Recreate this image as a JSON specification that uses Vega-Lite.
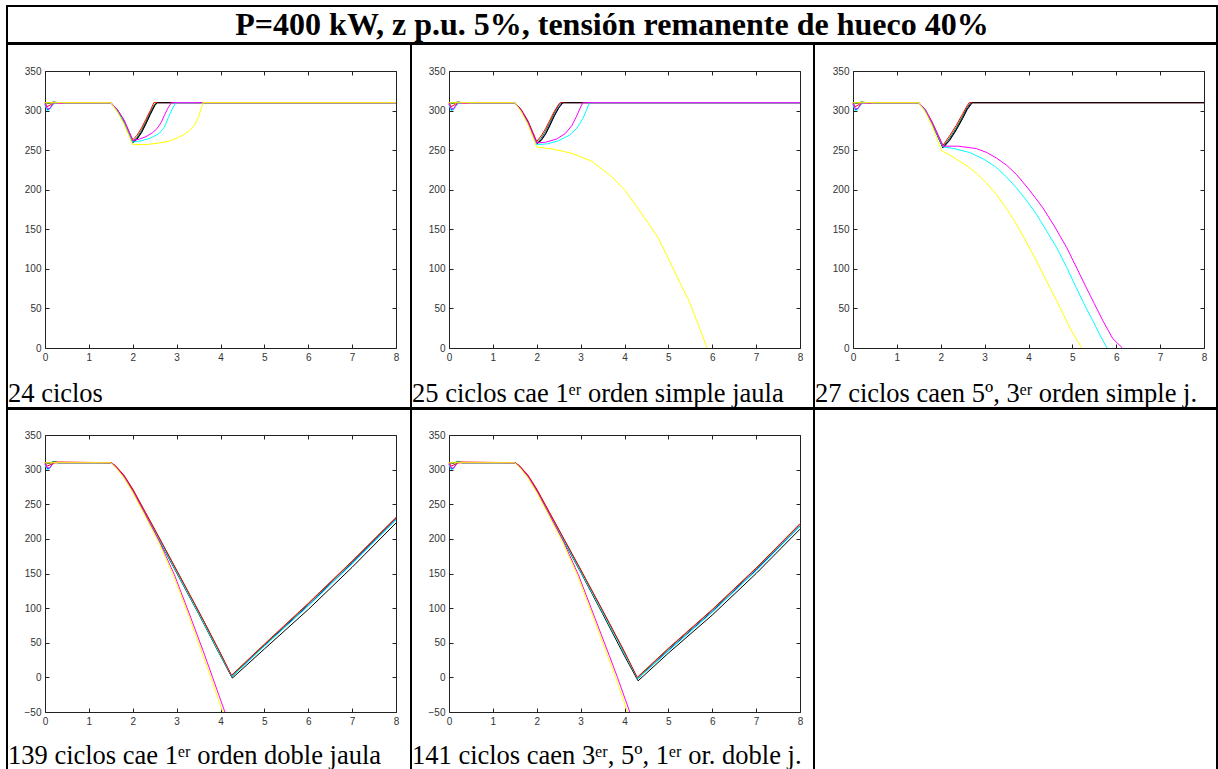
{
  "$schema": "https://vega.github.io/schema/vega-lite/v6.json",
  "background": "white",
  "padding": {"left": 6, "top": 5, "right": 0, "bottom": -4},
  "spacing": -2,
  "config": {
    "view": {"stroke": "#000", "strokeWidth": 2},
    "axis": {"grid": false, "domainColor": "#222", "domainWidth": 1, "tickColor": "#222", "tickWidth": 1, "tickSize": -4, "labelColor": "#333", "labelFont": "Liberation Sans", "labelFontSize": 10, "labelPadding": 8, "labelFlush": false, "minExtent": 0, "title": null},
    "title": {"font": "Liberation Serif", "fontSize": 26.5, "fontWeight": "normal", "color": "#000", "anchor": "start", "orient": "bottom", "frame": "group", "baseline": "alphabetic", "dx": 1},
    "style": {"group-title": {"font": "Liberation Serif", "fontSize": 26.5, "fontWeight": "normal", "color": "#000"}},
    "line": {"strokeWidth": 1}
  },
  "datasets": {
    "curvas": [
      {"p":1,"s":"b","x":0,"y":308},{"p":1,"s":"b","x":0.05,"y":301},{"p":1,"s":"b","x":0.1,"y":302},{"p":1,"s":"b","x":0.2,"y":309},{"p":1,"s":"b","x":0.3,"y":310},{"p":1,"s":"b","x":1.5,"y":310},{"p":1,"s":"b","x":1.65,"y":300},{"p":1,"s":"b","x":1.8,"y":286},{"p":1,"s":"b","x":2.0,"y":260},{"p":1,"s":"b","x":2.1,"y":265},{"p":1,"s":"b","x":2.2,"y":273},{"p":1,"s":"b","x":2.3,"y":284},{"p":1,"s":"b","x":2.4,"y":296},{"p":1,"s":"b","x":2.5,"y":307},{"p":1,"s":"b","x":2.55,"y":310},{"p":1,"s":"b","x":8,"y":310},
      {"p":1,"s":"g","x":0,"y":310},{"p":1,"s":"g","x":0.1,"y":309},{"p":1,"s":"g","x":0.2,"y":311},{"p":1,"s":"g","x":0.3,"y":310},{"p":1,"s":"g","x":1.5,"y":310},{"p":1,"s":"g","x":1.65,"y":301},{"p":1,"s":"g","x":1.8,"y":287},{"p":1,"s":"g","x":2.0,"y":261},{"p":1,"s":"g","x":2.1,"y":266},{"p":1,"s":"g","x":2.2,"y":275},{"p":1,"s":"g","x":2.3,"y":286},{"p":1,"s":"g","x":2.4,"y":298},{"p":1,"s":"g","x":2.5,"y":308},{"p":1,"s":"g","x":2.54,"y":310},{"p":1,"s":"g","x":8,"y":310},
      {"p":1,"s":"r","x":0,"y":310},{"p":1,"s":"r","x":0.05,"y":305},{"p":1,"s":"r","x":0.15,"y":308},{"p":1,"s":"r","x":0.25,"y":310},{"p":1,"s":"r","x":1.5,"y":310},{"p":1,"s":"r","x":1.65,"y":301},{"p":1,"s":"r","x":1.8,"y":288},{"p":1,"s":"r","x":2.0,"y":263},{"p":1,"s":"r","x":2.1,"y":269},{"p":1,"s":"r","x":2.2,"y":278},{"p":1,"s":"r","x":2.3,"y":289},{"p":1,"s":"r","x":2.4,"y":300},{"p":1,"s":"r","x":2.48,"y":310},{"p":1,"s":"r","x":8,"y":310},
      {"p":1,"s":"k","x":0,"y":310},{"p":1,"s":"k","x":1.5,"y":310},{"p":1,"s":"k","x":1.65,"y":300},{"p":1,"s":"k","x":1.8,"y":286},{"p":1,"s":"k","x":2.0,"y":259},{"p":1,"s":"k","x":2.1,"y":264},{"p":1,"s":"k","x":2.2,"y":272},{"p":1,"s":"k","x":2.3,"y":283},{"p":1,"s":"k","x":2.4,"y":295},{"p":1,"s":"k","x":2.5,"y":306},{"p":1,"s":"k","x":2.56,"y":310},{"p":1,"s":"k","x":8,"y":310},
      {"p":1,"s":"c","x":0,"y":307},{"p":1,"s":"c","x":0.05,"y":300},{"p":1,"s":"c","x":0.1,"y":301},{"p":1,"s":"c","x":0.2,"y":309},{"p":1,"s":"c","x":0.3,"y":310},{"p":1,"s":"c","x":1.5,"y":310},{"p":1,"s":"c","x":1.65,"y":300},{"p":1,"s":"c","x":1.8,"y":286},{"p":1,"s":"c","x":2.0,"y":260},{"p":1,"s":"c","x":2.2,"y":262},{"p":1,"s":"c","x":2.4,"y":265},{"p":1,"s":"c","x":2.6,"y":271},{"p":1,"s":"c","x":2.72,"y":279},{"p":1,"s":"c","x":2.81,"y":291},{"p":1,"s":"c","x":2.9,"y":302},{"p":1,"s":"c","x":2.98,"y":310},{"p":1,"s":"c","x":8,"y":310},
      {"p":1,"s":"m","x":0,"y":309},{"p":1,"s":"m","x":0.05,"y":303},{"p":1,"s":"m","x":0.1,"y":302},{"p":1,"s":"m","x":0.2,"y":310},{"p":1,"s":"m","x":0.4,"y":309},{"p":1,"s":"m","x":0.45,"y":310},{"p":1,"s":"m","x":1.5,"y":310},{"p":1,"s":"m","x":1.65,"y":301},{"p":1,"s":"m","x":1.8,"y":288},{"p":1,"s":"m","x":2.0,"y":262},{"p":1,"s":"m","x":2.15,"y":264},{"p":1,"s":"m","x":2.3,"y":267},{"p":1,"s":"m","x":2.45,"y":272},{"p":1,"s":"m","x":2.55,"y":277},{"p":1,"s":"m","x":2.65,"y":285},{"p":1,"s":"m","x":2.73,"y":295},{"p":1,"s":"m","x":2.8,"y":303},{"p":1,"s":"m","x":2.88,"y":310},{"p":1,"s":"m","x":8,"y":310},
      {"p":1,"s":"y","x":0,"y":310},{"p":1,"s":"y","x":1.5,"y":310},{"p":1,"s":"y","x":1.65,"y":298},{"p":1,"s":"y","x":1.8,"y":283},{"p":1,"s":"y","x":2.0,"y":257},{"p":1,"s":"y","x":2.3,"y":257},{"p":1,"s":"y","x":2.6,"y":259},{"p":1,"s":"y","x":2.8,"y":261},{"p":1,"s":"y","x":3.0,"y":265},{"p":1,"s":"y","x":3.15,"y":269},{"p":1,"s":"y","x":3.3,"y":275},{"p":1,"s":"y","x":3.4,"y":281},{"p":1,"s":"y","x":3.5,"y":292},{"p":1,"s":"y","x":3.56,"y":303},{"p":1,"s":"y","x":3.6,"y":310},{"p":1,"s":"y","x":8,"y":310},

      {"p":2,"s":"b","x":0,"y":308},{"p":2,"s":"b","x":0.05,"y":301},{"p":2,"s":"b","x":0.1,"y":302},{"p":2,"s":"b","x":0.2,"y":309},{"p":2,"s":"b","x":0.3,"y":310},{"p":2,"s":"b","x":1.5,"y":310},{"p":2,"s":"b","x":1.65,"y":300},{"p":2,"s":"b","x":1.8,"y":285},{"p":2,"s":"b","x":2.0,"y":258},{"p":2,"s":"b","x":2.1,"y":263},{"p":2,"s":"b","x":2.2,"y":271},{"p":2,"s":"b","x":2.3,"y":282},{"p":2,"s":"b","x":2.4,"y":294},{"p":2,"s":"b","x":2.5,"y":304},{"p":2,"s":"b","x":2.58,"y":310},{"p":2,"s":"b","x":8,"y":310},
      {"p":2,"s":"g","x":0,"y":310},{"p":2,"s":"g","x":0.1,"y":309},{"p":2,"s":"g","x":0.2,"y":311},{"p":2,"s":"g","x":0.3,"y":310},{"p":2,"s":"g","x":1.5,"y":310},{"p":2,"s":"g","x":1.65,"y":300},{"p":2,"s":"g","x":1.8,"y":286},{"p":2,"s":"g","x":2.0,"y":259},{"p":2,"s":"g","x":2.1,"y":265},{"p":2,"s":"g","x":2.2,"y":274},{"p":2,"s":"g","x":2.3,"y":285},{"p":2,"s":"g","x":2.4,"y":297},{"p":2,"s":"g","x":2.5,"y":307},{"p":2,"s":"g","x":2.55,"y":310},{"p":2,"s":"g","x":8,"y":310},
      {"p":2,"s":"r","x":0,"y":310},{"p":2,"s":"r","x":0.05,"y":305},{"p":2,"s":"r","x":0.15,"y":308},{"p":2,"s":"r","x":0.25,"y":310},{"p":2,"s":"r","x":1.5,"y":310},{"p":2,"s":"r","x":1.65,"y":301},{"p":2,"s":"r","x":1.8,"y":287},{"p":2,"s":"r","x":2.0,"y":261},{"p":2,"s":"r","x":2.1,"y":268},{"p":2,"s":"r","x":2.2,"y":277},{"p":2,"s":"r","x":2.3,"y":288},{"p":2,"s":"r","x":2.4,"y":299},{"p":2,"s":"r","x":2.5,"y":308},{"p":2,"s":"r","x":2.53,"y":310},{"p":2,"s":"r","x":8,"y":310},
      {"p":2,"s":"k","x":0,"y":310},{"p":2,"s":"k","x":1.5,"y":310},{"p":2,"s":"k","x":1.65,"y":300},{"p":2,"s":"k","x":1.8,"y":285},{"p":2,"s":"k","x":2.0,"y":258},{"p":2,"s":"k","x":2.1,"y":262},{"p":2,"s":"k","x":2.2,"y":270},{"p":2,"s":"k","x":2.3,"y":281},{"p":2,"s":"k","x":2.4,"y":293},{"p":2,"s":"k","x":2.5,"y":303},{"p":2,"s":"k","x":2.6,"y":310},{"p":2,"s":"k","x":8,"y":310},
      {"p":2,"s":"c","x":0,"y":307},{"p":2,"s":"c","x":0.05,"y":300},{"p":2,"s":"c","x":0.1,"y":301},{"p":2,"s":"c","x":0.2,"y":309},{"p":2,"s":"c","x":0.3,"y":310},{"p":2,"s":"c","x":1.5,"y":310},{"p":2,"s":"c","x":1.65,"y":299},{"p":2,"s":"c","x":1.8,"y":284},{"p":2,"s":"c","x":2.0,"y":257},{"p":2,"s":"c","x":2.25,"y":258},{"p":2,"s":"c","x":2.5,"y":262},{"p":2,"s":"c","x":2.75,"y":269},{"p":2,"s":"c","x":2.92,"y":278},{"p":2,"s":"c","x":3.05,"y":290},{"p":2,"s":"c","x":3.13,"y":300},{"p":2,"s":"c","x":3.2,"y":310},{"p":2,"s":"c","x":8,"y":310},
      {"p":2,"s":"m","x":0,"y":309},{"p":2,"s":"m","x":0.05,"y":303},{"p":2,"s":"m","x":0.1,"y":302},{"p":2,"s":"m","x":0.2,"y":310},{"p":2,"s":"m","x":0.4,"y":309},{"p":2,"s":"m","x":0.45,"y":310},{"p":2,"s":"m","x":1.5,"y":310},{"p":2,"s":"m","x":1.65,"y":300},{"p":2,"s":"m","x":1.8,"y":285},{"p":2,"s":"m","x":2.0,"y":259},{"p":2,"s":"m","x":2.2,"y":260},{"p":2,"s":"m","x":2.45,"y":264},{"p":2,"s":"m","x":2.65,"y":271},{"p":2,"s":"m","x":2.8,"y":281},{"p":2,"s":"m","x":2.9,"y":292},{"p":2,"s":"m","x":2.98,"y":302},{"p":2,"s":"m","x":3.05,"y":310},{"p":2,"s":"m","x":8,"y":310},
      {"p":2,"s":"y","x":0,"y":310},{"p":2,"s":"y","x":1.5,"y":310},{"p":2,"s":"y","x":1.65,"y":298},{"p":2,"s":"y","x":1.8,"y":282},{"p":2,"s":"y","x":2.0,"y":254},{"p":2,"s":"y","x":2.4,"y":251},{"p":2,"s":"y","x":2.8,"y":246},{"p":2,"s":"y","x":3.25,"y":236},{"p":2,"s":"y","x":3.7,"y":217},{"p":2,"s":"y","x":4.0,"y":200},{"p":2,"s":"y","x":4.3,"y":177},{"p":2,"s":"y","x":4.55,"y":157},{"p":2,"s":"y","x":4.77,"y":139},{"p":2,"s":"y","x":5.07,"y":105},{"p":2,"s":"y","x":5.3,"y":78},{"p":2,"s":"y","x":5.45,"y":62},{"p":2,"s":"y","x":5.68,"y":30},{"p":2,"s":"y","x":5.88,"y":0},

      {"p":3,"s":"b","x":0,"y":308},{"p":3,"s":"b","x":0.05,"y":301},{"p":3,"s":"b","x":0.1,"y":302},{"p":3,"s":"b","x":0.2,"y":309},{"p":3,"s":"b","x":0.3,"y":310},{"p":3,"s":"b","x":1.5,"y":310},{"p":3,"s":"b","x":1.65,"y":300},{"p":3,"s":"b","x":1.8,"y":284},{"p":3,"s":"b","x":2.05,"y":253},{"p":3,"s":"b","x":2.2,"y":263},{"p":3,"s":"b","x":2.35,"y":276},{"p":3,"s":"b","x":2.5,"y":291},{"p":3,"s":"b","x":2.6,"y":302},{"p":3,"s":"b","x":2.7,"y":310},{"p":3,"s":"b","x":8,"y":310},
      {"p":3,"s":"g","x":0,"y":310},{"p":3,"s":"g","x":0.1,"y":309},{"p":3,"s":"g","x":0.2,"y":311},{"p":3,"s":"g","x":0.3,"y":310},{"p":3,"s":"g","x":1.5,"y":310},{"p":3,"s":"g","x":1.65,"y":300},{"p":3,"s":"g","x":1.8,"y":285},{"p":3,"s":"g","x":2.05,"y":254},{"p":3,"s":"g","x":2.2,"y":265},{"p":3,"s":"g","x":2.35,"y":278},{"p":3,"s":"g","x":2.5,"y":293},{"p":3,"s":"g","x":2.6,"y":304},{"p":3,"s":"g","x":2.68,"y":310},{"p":3,"s":"g","x":8,"y":310},
      {"p":3,"s":"r","x":0,"y":310},{"p":3,"s":"r","x":0.05,"y":305},{"p":3,"s":"r","x":0.15,"y":308},{"p":3,"s":"r","x":0.25,"y":310},{"p":3,"s":"r","x":1.5,"y":310},{"p":3,"s":"r","x":1.65,"y":301},{"p":3,"s":"r","x":1.8,"y":286},{"p":3,"s":"r","x":2.05,"y":256},{"p":3,"s":"r","x":2.2,"y":268},{"p":3,"s":"r","x":2.35,"y":281},{"p":3,"s":"r","x":2.5,"y":296},{"p":3,"s":"r","x":2.6,"y":306},{"p":3,"s":"r","x":2.65,"y":310},{"p":3,"s":"r","x":8,"y":310},
      {"p":3,"s":"k","x":0,"y":310},{"p":3,"s":"k","x":1.5,"y":310},{"p":3,"s":"k","x":1.65,"y":300},{"p":3,"s":"k","x":1.8,"y":284},{"p":3,"s":"k","x":2.05,"y":253},{"p":3,"s":"k","x":2.2,"y":262},{"p":3,"s":"k","x":2.35,"y":275},{"p":3,"s":"k","x":2.5,"y":290},{"p":3,"s":"k","x":2.6,"y":301},{"p":3,"s":"k","x":2.72,"y":310},{"p":3,"s":"k","x":8,"y":310},
      {"p":3,"s":"c","x":0,"y":307},{"p":3,"s":"c","x":0.05,"y":300},{"p":3,"s":"c","x":0.1,"y":301},{"p":3,"s":"c","x":0.2,"y":309},{"p":3,"s":"c","x":0.3,"y":310},{"p":3,"s":"c","x":1.5,"y":310},{"p":3,"s":"c","x":1.65,"y":300},{"p":3,"s":"c","x":1.8,"y":284},{"p":3,"s":"c","x":2.05,"y":254},{"p":3,"s":"c","x":2.3,"y":252},{"p":3,"s":"c","x":2.66,"y":247},{"p":3,"s":"c","x":3.0,"y":238},{"p":3,"s":"c","x":3.27,"y":228},{"p":3,"s":"c","x":3.5,"y":216},{"p":3,"s":"c","x":3.73,"y":202},{"p":3,"s":"c","x":4.0,"y":183},{"p":3,"s":"c","x":4.18,"y":169},{"p":3,"s":"c","x":4.4,"y":149},{"p":3,"s":"c","x":4.64,"y":127},{"p":3,"s":"c","x":4.87,"y":102},{"p":3,"s":"c","x":5.09,"y":76},{"p":3,"s":"c","x":5.3,"y":52},{"p":3,"s":"c","x":5.48,"y":33},{"p":3,"s":"c","x":5.65,"y":14},{"p":3,"s":"c","x":5.79,"y":0},
      {"p":3,"s":"m","x":0,"y":309},{"p":3,"s":"m","x":0.05,"y":303},{"p":3,"s":"m","x":0.1,"y":302},{"p":3,"s":"m","x":0.2,"y":310},{"p":3,"s":"m","x":0.4,"y":309},{"p":3,"s":"m","x":0.45,"y":310},{"p":3,"s":"m","x":1.5,"y":310},{"p":3,"s":"m","x":1.65,"y":301},{"p":3,"s":"m","x":1.8,"y":285},{"p":3,"s":"m","x":2.05,"y":255},{"p":3,"s":"m","x":2.4,"y":255},{"p":3,"s":"m","x":2.81,"y":252},{"p":3,"s":"m","x":3.05,"y":247},{"p":3,"s":"m","x":3.27,"y":240},{"p":3,"s":"m","x":3.5,"y":231},{"p":3,"s":"m","x":3.73,"y":219},{"p":3,"s":"m","x":4.0,"y":201},{"p":3,"s":"m","x":4.33,"y":177},{"p":3,"s":"m","x":4.6,"y":153},{"p":3,"s":"m","x":4.87,"y":127},{"p":3,"s":"m","x":5.1,"y":101},{"p":3,"s":"m","x":5.32,"y":76},{"p":3,"s":"m","x":5.5,"y":56},{"p":3,"s":"m","x":5.7,"y":34},{"p":3,"s":"m","x":5.92,"y":12},{"p":3,"s":"m","x":6.14,"y":0},
      {"p":3,"s":"y","x":0,"y":310},{"p":3,"s":"y","x":1.5,"y":310},{"p":3,"s":"y","x":1.65,"y":298},{"p":3,"s":"y","x":1.8,"y":281},{"p":3,"s":"y","x":2.02,"y":249},{"p":3,"s":"y","x":2.2,"y":244},{"p":3,"s":"y","x":2.43,"y":236},{"p":3,"s":"y","x":2.6,"y":230},{"p":3,"s":"y","x":2.81,"y":221},{"p":3,"s":"y","x":3.05,"y":208},{"p":3,"s":"y","x":3.27,"y":194},{"p":3,"s":"y","x":3.5,"y":176},{"p":3,"s":"y","x":3.73,"y":156},{"p":3,"s":"y","x":3.95,"y":134},{"p":3,"s":"y","x":4.18,"y":110},{"p":3,"s":"y","x":4.4,"y":86},{"p":3,"s":"y","x":4.64,"y":60},{"p":3,"s":"y","x":4.8,"y":42},{"p":3,"s":"y","x":4.94,"y":26},{"p":3,"s":"y","x":5.08,"y":12},{"p":3,"s":"y","x":5.22,"y":0},

      {"p":4,"s":"b","x":0,"y":308},{"p":4,"s":"b","x":0.05,"y":301},{"p":4,"s":"b","x":0.1,"y":302},{"p":4,"s":"b","x":0.2,"y":311},{"p":4,"s":"b","x":0.3,"y":310},{"p":4,"s":"b","x":1.5,"y":310},{"p":4,"s":"b","x":1.6,"y":305},{"p":4,"s":"b","x":1.8,"y":291},{"p":4,"s":"b","x":2.0,"y":270},{"p":4,"s":"b","x":2.5,"y":212},{"p":4,"s":"b","x":3.0,"y":153},{"p":4,"s":"b","x":3.5,"y":94},{"p":4,"s":"b","x":4.0,"y":33},{"p":4,"s":"b","x":4.26,"y":1},{"p":4,"s":"b","x":5.0,"y":46},{"p":4,"s":"b","x":6.0,"y":104},{"p":4,"s":"b","x":7.0,"y":165},{"p":4,"s":"b","x":8.0,"y":228},
      {"p":4,"s":"g","x":0,"y":310},{"p":4,"s":"g","x":0.1,"y":309},{"p":4,"s":"g","x":0.2,"y":312},{"p":4,"s":"g","x":0.3,"y":310},{"p":4,"s":"g","x":1.5,"y":310},{"p":4,"s":"g","x":1.6,"y":306},{"p":4,"s":"g","x":1.8,"y":291},{"p":4,"s":"g","x":2.0,"y":271},{"p":4,"s":"g","x":2.5,"y":213},{"p":4,"s":"g","x":3.0,"y":154},{"p":4,"s":"g","x":3.5,"y":95},{"p":4,"s":"g","x":4.0,"y":34},{"p":4,"s":"g","x":4.25,"y":2},{"p":4,"s":"g","x":5.0,"y":47},{"p":4,"s":"g","x":6.0,"y":106},{"p":4,"s":"g","x":7.0,"y":167},{"p":4,"s":"g","x":8.0,"y":230},
      {"p":4,"s":"k","x":0,"y":310},{"p":4,"s":"k","x":1.5,"y":310},{"p":4,"s":"k","x":1.6,"y":305},{"p":4,"s":"k","x":1.8,"y":290},{"p":4,"s":"k","x":2.0,"y":269},{"p":4,"s":"k","x":2.5,"y":210},{"p":4,"s":"k","x":3.0,"y":151},{"p":4,"s":"k","x":3.5,"y":92},{"p":4,"s":"k","x":4.0,"y":31},{"p":4,"s":"k","x":4.27,"y":-1},{"p":4,"s":"k","x":5.0,"y":41},{"p":4,"s":"k","x":6.0,"y":98},{"p":4,"s":"k","x":7.0,"y":159},{"p":4,"s":"k","x":8.0,"y":223},
      {"p":4,"s":"c","x":0,"y":307},{"p":4,"s":"c","x":0.05,"y":300},{"p":4,"s":"c","x":0.1,"y":301},{"p":4,"s":"c","x":0.2,"y":311},{"p":4,"s":"c","x":0.3,"y":310},{"p":4,"s":"c","x":1.5,"y":310},{"p":4,"s":"c","x":1.6,"y":305},{"p":4,"s":"c","x":1.8,"y":290},{"p":4,"s":"c","x":2.0,"y":269},{"p":4,"s":"c","x":2.5,"y":211},{"p":4,"s":"c","x":3.0,"y":152},{"p":4,"s":"c","x":3.5,"y":93},{"p":4,"s":"c","x":4.0,"y":32},{"p":4,"s":"c","x":4.26,"y":1},{"p":4,"s":"c","x":5.0,"y":45},{"p":4,"s":"c","x":6.0,"y":103},{"p":4,"s":"c","x":7.0,"y":164},{"p":4,"s":"c","x":8.0,"y":227},
      {"p":4,"s":"r","x":0,"y":310},{"p":4,"s":"r","x":0.05,"y":305},{"p":4,"s":"r","x":0.15,"y":308},{"p":4,"s":"r","x":0.25,"y":311},{"p":4,"s":"r","x":1.5,"y":310},{"p":4,"s":"r","x":1.6,"y":306},{"p":4,"s":"r","x":1.8,"y":292},{"p":4,"s":"r","x":2.0,"y":272},{"p":4,"s":"r","x":2.5,"y":214},{"p":4,"s":"r","x":3.0,"y":155},{"p":4,"s":"r","x":3.5,"y":96},{"p":4,"s":"r","x":4.0,"y":35},{"p":4,"s":"r","x":4.25,"y":3},{"p":4,"s":"r","x":5.0,"y":48},{"p":4,"s":"r","x":6.0,"y":107},{"p":4,"s":"r","x":7.0,"y":168},{"p":4,"s":"r","x":8.0,"y":231},
      {"p":4,"s":"m","x":0,"y":309},{"p":4,"s":"m","x":0.05,"y":303},{"p":4,"s":"m","x":0.1,"y":302},{"p":4,"s":"m","x":0.2,"y":310},{"p":4,"s":"m","x":1.5,"y":310},{"p":4,"s":"m","x":1.6,"y":305},{"p":4,"s":"m","x":1.8,"y":290},{"p":4,"s":"m","x":2.0,"y":269},{"p":4,"s":"m","x":2.3,"y":234},{"p":4,"s":"m","x":2.6,"y":197},{"p":4,"s":"m","x":2.95,"y":148},{"p":4,"s":"m","x":3.33,"y":85},{"p":4,"s":"m","x":3.64,"y":32},{"p":4,"s":"m","x":3.82,"y":0},{"p":4,"s":"m","x":4.1,"y":-50},
      {"p":4,"s":"y","x":0,"y":310},{"p":4,"s":"y","x":1.5,"y":310},{"p":4,"s":"y","x":1.6,"y":304},{"p":4,"s":"y","x":1.8,"y":288},{"p":4,"s":"y","x":2.0,"y":267},{"p":4,"s":"y","x":2.3,"y":231},{"p":4,"s":"y","x":2.6,"y":194},{"p":4,"s":"y","x":2.93,"y":147},{"p":4,"s":"y","x":3.3,"y":85},{"p":4,"s":"y","x":3.6,"y":32},{"p":4,"s":"y","x":3.78,"y":0},{"p":4,"s":"y","x":4.05,"y":-50},

      {"p":5,"s":"b","x":0,"y":308},{"p":5,"s":"b","x":0.05,"y":301},{"p":5,"s":"b","x":0.1,"y":302},{"p":5,"s":"b","x":0.2,"y":311},{"p":5,"s":"b","x":0.3,"y":310},{"p":5,"s":"b","x":1.5,"y":310},{"p":5,"s":"b","x":1.6,"y":305},{"p":5,"s":"b","x":1.8,"y":291},{"p":5,"s":"b","x":2.0,"y":270},{"p":5,"s":"b","x":2.5,"y":212},{"p":5,"s":"b","x":3.0,"y":154},{"p":5,"s":"b","x":3.5,"y":95},{"p":5,"s":"b","x":4.0,"y":35},{"p":5,"s":"b","x":4.3,"y":-2},{"p":5,"s":"b","x":5.0,"y":39},{"p":5,"s":"b","x":6.0,"y":95},{"p":5,"s":"b","x":7.0,"y":155},{"p":5,"s":"b","x":8.0,"y":219},
      {"p":5,"s":"g","x":0,"y":310},{"p":5,"s":"g","x":0.1,"y":309},{"p":5,"s":"g","x":0.2,"y":312},{"p":5,"s":"g","x":0.3,"y":310},{"p":5,"s":"g","x":1.5,"y":310},{"p":5,"s":"g","x":1.6,"y":306},{"p":5,"s":"g","x":1.8,"y":291},{"p":5,"s":"g","x":2.0,"y":271},{"p":5,"s":"g","x":2.5,"y":213},{"p":5,"s":"g","x":3.0,"y":155},{"p":5,"s":"g","x":3.5,"y":96},{"p":5,"s":"g","x":4.0,"y":36},{"p":5,"s":"g","x":4.29,"y":-1},{"p":5,"s":"g","x":5.0,"y":41},{"p":5,"s":"g","x":6.0,"y":97},{"p":5,"s":"g","x":7.0,"y":157},{"p":5,"s":"g","x":8.0,"y":221},
      {"p":5,"s":"k","x":0,"y":310},{"p":5,"s":"k","x":1.5,"y":310},{"p":5,"s":"k","x":1.6,"y":305},{"p":5,"s":"k","x":1.8,"y":290},{"p":5,"s":"k","x":2.0,"y":269},{"p":5,"s":"k","x":2.5,"y":210},{"p":5,"s":"k","x":3.0,"y":152},{"p":5,"s":"k","x":3.5,"y":92},{"p":5,"s":"k","x":4.0,"y":31},{"p":5,"s":"k","x":4.31,"y":-5},{"p":5,"s":"k","x":5.0,"y":35},{"p":5,"s":"k","x":6.0,"y":90},{"p":5,"s":"k","x":7.0,"y":150},{"p":5,"s":"k","x":8.0,"y":214},
      {"p":5,"s":"c","x":0,"y":307},{"p":5,"s":"c","x":0.05,"y":300},{"p":5,"s":"c","x":0.1,"y":301},{"p":5,"s":"c","x":0.2,"y":311},{"p":5,"s":"c","x":0.3,"y":310},{"p":5,"s":"c","x":1.5,"y":310},{"p":5,"s":"c","x":1.6,"y":305},{"p":5,"s":"c","x":1.8,"y":290},{"p":5,"s":"c","x":2.0,"y":269},{"p":5,"s":"c","x":2.5,"y":211},{"p":5,"s":"c","x":3.0,"y":153},{"p":5,"s":"c","x":3.5,"y":94},{"p":5,"s":"c","x":4.0,"y":34},{"p":5,"s":"c","x":4.3,"y":-2},{"p":5,"s":"c","x":5.0,"y":38},{"p":5,"s":"c","x":6.0,"y":94},{"p":5,"s":"c","x":7.0,"y":154},{"p":5,"s":"c","x":8.0,"y":218},
      {"p":5,"s":"r","x":0,"y":310},{"p":5,"s":"r","x":0.05,"y":305},{"p":5,"s":"r","x":0.15,"y":308},{"p":5,"s":"r","x":0.25,"y":311},{"p":5,"s":"r","x":1.5,"y":310},{"p":5,"s":"r","x":1.6,"y":306},{"p":5,"s":"r","x":1.8,"y":292},{"p":5,"s":"r","x":2.0,"y":272},{"p":5,"s":"r","x":2.5,"y":214},{"p":5,"s":"r","x":3.0,"y":156},{"p":5,"s":"r","x":3.5,"y":97},{"p":5,"s":"r","x":4.0,"y":37},{"p":5,"s":"r","x":4.29,"y":0},{"p":5,"s":"r","x":5.0,"y":42},{"p":5,"s":"r","x":6.0,"y":98},{"p":5,"s":"r","x":7.0,"y":158},{"p":5,"s":"r","x":8.0,"y":222},
      {"p":5,"s":"m","x":0,"y":309},{"p":5,"s":"m","x":0.05,"y":303},{"p":5,"s":"m","x":0.1,"y":302},{"p":5,"s":"m","x":0.2,"y":310},{"p":5,"s":"m","x":1.5,"y":310},{"p":5,"s":"m","x":1.6,"y":305},{"p":5,"s":"m","x":1.8,"y":290},{"p":5,"s":"m","x":2.0,"y":269},{"p":5,"s":"m","x":2.3,"y":234},{"p":5,"s":"m","x":2.6,"y":197},{"p":5,"s":"m","x":2.95,"y":148},{"p":5,"s":"m","x":3.33,"y":85},{"p":5,"s":"m","x":3.65,"y":32},{"p":5,"s":"m","x":3.84,"y":0},{"p":5,"s":"m","x":4.12,"y":-50},
      {"p":5,"s":"y","x":0,"y":310},{"p":5,"s":"y","x":1.5,"y":310},{"p":5,"s":"y","x":1.6,"y":304},{"p":5,"s":"y","x":1.8,"y":288},{"p":5,"s":"y","x":2.0,"y":267},{"p":5,"s":"y","x":2.3,"y":231},{"p":5,"s":"y","x":2.6,"y":194},{"p":5,"s":"y","x":2.93,"y":147},{"p":5,"s":"y","x":3.3,"y":85},{"p":5,"s":"y","x":3.61,"y":32},{"p":5,"s":"y","x":3.8,"y":0},{"p":5,"s":"y","x":4.07,"y":-50}
    ]
  },
  "vconcat": [
    {
      "width": 1210, "height": 37,
      "view": {"style": "cell", "stroke": "#000", "strokeWidth": 2},
      "data": {"values": [{"t": "P=400 kW, z p.u. 5%, tensión remanente de hueco 40%"}]},
      "mark": {"type": "text", "font": "Liberation Serif", "fontWeight": "bold", "fontSize": 32, "align": "center", "baseline": "middle", "color": "#000"},
      "encoding": {"text": {"field": "t"}}
    },
    {
      "hconcat": [
        {
          "width": 404, "height": 364,
          "data": {"name": "curvas"},
          "transform": [{"filter": "datum.p == 1"}],
          "title": {"text": "24 ciclos", "offset": -27, "font": "Liberation Serif", "fontSize": 26.5, "fontWeight": "normal", "color": "#000"},
          "layer": [
            {"mark": {"type": "line"},
             "encoding": {
               "x": {"field": "x", "type": "quantitative", "scale": {"domain": [0, 8], "range": [38, 389], "nice": false, "zero": false}, "axis": {"orient": "bottom", "offset": -60, "values": [0,1,2,3,4,5,6,7,8]}},
               "y": {"field": "y", "type": "quantitative", "scale": {"domain": [0, 350], "range": [304, 27], "nice": false, "zero": false}, "axis": {"orient": "left", "offset": -38, "values": [0,50,100,150,200,250,300,350]}},
               "color": {"field": "s", "type": "nominal", "scale": {"domain": ["b","g","r","k","c","m","y"], "range": ["#0000ff","#008000","#ff0000","#000000","#00ffff","#ff00ff","#ffff00"]}, "legend": null}
             }},
            {"mark": {"type": "line", "strokeOpacity": 0},
             "encoding": {
               "x": {"field": "x", "type": "quantitative", "axis": {"orient": "top", "offset": -27, "labels": false, "values": [0,1,2,3,4,5,6,7,8]}},
               "y": {"field": "y", "type": "quantitative", "axis": {"orient": "right", "offset": -15, "labels": false, "values": [0,50,100,150,200,250,300,350]}},
               "detail": {"field": "s"}
             }}
          ]
        },
        {
          "width": 403, "height": 364,
          "data": {"name": "curvas"},
          "transform": [{"filter": "datum.p == 2"}],
          "title": {"text": "25 ciclos cae 1ᵉʳ orden simple jaula", "offset": -27, "font": "Liberation Serif", "fontSize": 26.5, "fontWeight": "normal", "color": "#000"},
          "layer": [
            {"mark": {"type": "line"},
             "encoding": {
               "x": {"field": "x", "type": "quantitative", "scale": {"domain": [0, 8], "range": [38, 389], "nice": false, "zero": false}, "axis": {"orient": "bottom", "offset": -60, "values": [0,1,2,3,4,5,6,7,8]}},
               "y": {"field": "y", "type": "quantitative", "scale": {"domain": [0, 350], "range": [304, 27], "nice": false, "zero": false}, "axis": {"orient": "left", "offset": -38, "values": [0,50,100,150,200,250,300,350]}},
               "color": {"field": "s", "type": "nominal", "scale": {"domain": ["b","g","r","k","c","m","y"], "range": ["#0000ff","#008000","#ff0000","#000000","#00ffff","#ff00ff","#ffff00"]}, "legend": null}
             }},
            {"mark": {"type": "line", "strokeOpacity": 0},
             "encoding": {
               "x": {"field": "x", "type": "quantitative", "axis": {"orient": "top", "offset": -27, "labels": false, "values": [0,1,2,3,4,5,6,7,8]}},
               "y": {"field": "y", "type": "quantitative", "axis": {"orient": "right", "offset": -14, "labels": false, "values": [0,50,100,150,200,250,300,350]}},
               "detail": {"field": "s"}
             }}
          ]
        },
        {
          "width": 403, "height": 364,
          "data": {"name": "curvas"},
          "transform": [{"filter": "datum.p == 3"}],
          "title": {"text": "27 ciclos caen 5º, 3ᵉʳ orden simple j.", "offset": -27, "font": "Liberation Serif", "fontSize": 26.5, "fontWeight": "normal", "color": "#000"},
          "layer": [
            {"mark": {"type": "line"},
             "encoding": {
               "x": {"field": "x", "type": "quantitative", "scale": {"domain": [0, 8], "range": [39, 390], "nice": false, "zero": false}, "axis": {"orient": "bottom", "offset": -60, "values": [0,1,2,3,4,5,6,7,8]}},
               "y": {"field": "y", "type": "quantitative", "scale": {"domain": [0, 350], "range": [304, 27], "nice": false, "zero": false}, "axis": {"orient": "left", "offset": -39, "values": [0,50,100,150,200,250,300,350]}},
               "color": {"field": "s", "type": "nominal", "scale": {"domain": ["b","g","r","k","c","m","y"], "range": ["#0000ff","#008000","#ff0000","#000000","#00ffff","#ff00ff","#ffff00"]}, "legend": null}
             }},
            {"mark": {"type": "line", "strokeOpacity": 0},
             "encoding": {
               "x": {"field": "x", "type": "quantitative", "axis": {"orient": "top", "offset": -27, "labels": false, "values": [0,1,2,3,4,5,6,7,8]}},
               "y": {"field": "y", "type": "quantitative", "axis": {"orient": "right", "offset": -13, "labels": false, "values": [0,50,100,150,200,250,300,350]}},
               "detail": {"field": "s"}
             }}
          ]
        }
      ],
      "spacing": 0,
      "bounds": "flush"
    },
    {
      "hconcat": [
        {
          "width": 404, "height": 363,
          "data": {"name": "curvas"},
          "transform": [{"filter": "datum.p == 4"}],
          "title": {"text": "139 ciclos cae 1ᵉʳ orden doble jaula", "offset": -29, "font": "Liberation Serif", "fontSize": 26.5, "fontWeight": "normal", "color": "#000"},
          "layer": [
            {"mark": {"type": "line"},
             "encoding": {
               "x": {"field": "x", "type": "quantitative", "scale": {"domain": [0, 8], "range": [38, 389], "nice": false, "zero": false}, "axis": {"orient": "bottom", "offset": -60, "values": [0,1,2,3,4,5,6,7,8]}},
               "y": {"field": "y", "type": "quantitative", "scale": {"domain": [-50, 350], "range": [303, 26], "nice": false, "zero": false}, "axis": {"orient": "left", "offset": -38, "values": [-50,0,50,100,150,200,250,300,350]}},
               "color": {"field": "s", "type": "nominal", "scale": {"domain": ["b","g","r","k","c","m","y"], "range": ["#0000ff","#008000","#ff0000","#000000","#00ffff","#ff00ff","#ffff00"]}, "legend": null}
             }},
            {"mark": {"type": "line", "strokeOpacity": 0},
             "encoding": {
               "x": {"field": "x", "type": "quantitative", "axis": {"orient": "top", "offset": -26, "labels": false, "values": [0,1,2,3,4,5,6,7,8]}},
               "y": {"field": "y", "type": "quantitative", "axis": {"orient": "right", "offset": -15, "labels": false, "values": [-50,0,50,100,150,200,250,300,350]}},
               "detail": {"field": "s"}
             }}
          ]
        },
        {
          "width": 403, "height": 363,
          "data": {"name": "curvas"},
          "transform": [{"filter": "datum.p == 5"}],
          "title": {"text": "141 ciclos caen 3ᵉʳ, 5º, 1ᵉʳ or. doble j.", "offset": -29, "font": "Liberation Serif", "fontSize": 26.5, "fontWeight": "normal", "color": "#000"},
          "layer": [
            {"mark": {"type": "line"},
             "encoding": {
               "x": {"field": "x", "type": "quantitative", "scale": {"domain": [0, 8], "range": [38, 389], "nice": false, "zero": false}, "axis": {"orient": "bottom", "offset": -60, "values": [0,1,2,3,4,5,6,7,8]}},
               "y": {"field": "y", "type": "quantitative", "scale": {"domain": [-50, 350], "range": [303, 26], "nice": false, "zero": false}, "axis": {"orient": "left", "offset": -38, "values": [-50,0,50,100,150,200,250,300,350]}},
               "color": {"field": "s", "type": "nominal", "scale": {"domain": ["b","g","r","k","c","m","y"], "range": ["#0000ff","#008000","#ff0000","#000000","#00ffff","#ff00ff","#ffff00"]}, "legend": null}
             }},
            {"mark": {"type": "line", "strokeOpacity": 0},
             "encoding": {
               "x": {"field": "x", "type": "quantitative", "axis": {"orient": "top", "offset": -26, "labels": false, "values": [0,1,2,3,4,5,6,7,8]}},
               "y": {"field": "y", "type": "quantitative", "axis": {"orient": "right", "offset": -14, "labels": false, "values": [-50,0,50,100,150,200,250,300,350]}},
               "detail": {"field": "s"}
             }}
          ]
        },
        {
          "width": 403, "height": 363,
          "view": {"style": "cell", "stroke": "#000", "strokeWidth": 2},
          "data": {"values": [{"t": ""}]},
          "mark": {"type": "text"},
          "encoding": {"text": {"field": "t"}}
        }
      ],
      "spacing": 0,
      "bounds": "flush"
    }
  ]
}
